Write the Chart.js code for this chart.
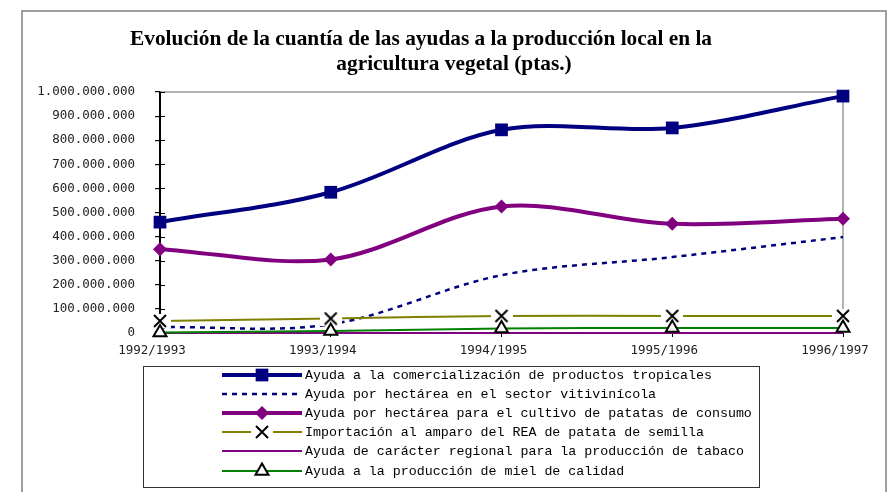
<!DOCTYPE html>
<html>
<head>
<meta charset="utf-8">
<script src="https://cdn.jsdelivr.net/npm/chart.js@4"></script>
<style>
  html, body { margin: 0; padding: 0; background: #fff; }
  #wrap { width: 896px; height: 492px; position: relative; }
</style>
</head>
<body>
<div id="wrap"><canvas id="ayudas" width="896" height="492"></canvas></div>
<script>
// campañas
const campanas = ['1992/1993', '1993/1994', '1994/1995', '1995/1996', '1996/1997'];

// importes en pesetas por línea de ayuda
const comercializacion = [460000000, 584000000, 843000000, 851000000, 983000000];
const vitivinicola = [24000000, 36000000, 240000000, 315000000, 398000000];
const patatasConsumo = [348000000, 305000000, 525000000, 453000000, 474000000];
const patataSemilla = [50000000, 60000000, 71000000, 71000000, 71000000];
const tabaco = [0, 0, 0, 0, 0];
const miel = [2000000, 8000000, 19000000, 21000000, 21000000];

const etiquetasY = ['0', '100.000.000', '200.000.000', '300.000.000', '400.000.000', '500.000.000',
  '600.000.000', '700.000.000', '800.000.000', '900.000.000', '1.000.000.000'];

const nombres = [
  'Ayuda a la comercialización de productos tropicales',
  'Ayuda por hectárea en el sector vitivinícola',
  'Ayuda por hectárea para el cultivo de patatas de consumo',
  'Importación al amparo del REA de patata de semilla',
  'Ayuda de carácter regional para la producción de tabaco',
  'Ayuda a la producción de miel de calidad'
];

const titulo = [
  'Evolución de la cuantía de las ayudas a la producción local en la',
  'agricultura vegetal (ptas.)'
];

// marcador en aspa con fondo blanco (corta la línea alrededor)
const aspa = document.createElement('canvas');
aspa.width = 22; aspa.height = 14;
(function () {
  const c = aspa.getContext('2d');
  c.fillStyle = '#fff';
  c.fillRect(0, 0, 22, 14);
  c.strokeStyle = '#000';
  c.lineWidth = 2;
  c.beginPath();
  c.moveTo(5, 1); c.lineTo(17, 13);
  c.moveTo(17, 1); c.lineTo(5, 13);
  c.stroke();
})();

const series = [
  { data: comercializacion, borderColor: '#000080', backgroundColor: '#000080', borderWidth: 4,
    pointStyle: 'rect', pointRadius: 9, pointBorderWidth: 0 },
  { data: vitivinicola, borderColor: '#000080', backgroundColor: '#000080', borderWidth: 2.5,
    borderDash: [5, 5], pointRadius: 0 },
  { data: patatasConsumo, borderColor: '#800080', backgroundColor: '#800080', borderWidth: 4,
    pointStyle: 'rectRot', pointRadius: 7, pointBorderWidth: 0 },
  { data: patataSemilla, borderColor: '#808000', backgroundColor: '#808000', borderWidth: 2,
    pointStyle: aspa, pointRadius: 7 },
  { data: tabaco, borderColor: '#800080', backgroundColor: '#800080', borderWidth: 2, pointRadius: 0 },
  { data: miel, borderColor: '#008000', backgroundColor: '#fff', borderWidth: 2,
    pointStyle: 'triangle', pointRadius: 7.5, pointBorderColor: '#000', pointBorderWidth: 2 }
];

const datasets = series.map((s, i) => Object.assign({
  label: nombres[i],
  tension: 0.33,
  clip: false,
  order: series.length - i,
  pointBackgroundColor: s.backgroundColor,
  pointBorderColor: s.pointBorderColor || s.borderColor
}, s));

// marco general, título, bordes del área de trazado y marcas del eje Y
const decoracion = {
  id: 'decoracion',
  beforeDraw(chart) {
    const ctx = chart.ctx;
    ctx.save();
    ctx.strokeStyle = '#808080';
    ctx.lineWidth = 1.5;
    ctx.strokeRect(22, 11, 864, 520);

    // título en negrita algo estrecha, ajustada a 582 px de ancho
    ctx.fillStyle = '#000';
    ctx.font = 'bold 22px "Liberation Serif"';
    ctx.textAlign = 'center';
    ctx.textBaseline = 'alphabetic';
    const k = 582 / ctx.measureText(titulo[0]).width;
    [[titulo[0], 421, 45], [titulo[1], 454, 70]].forEach(([t, x, y]) => {
      ctx.save();
      ctx.translate(x, y);
      ctx.scale(k, 1);
      ctx.fillText(t, 0, 0);
      ctx.restore();
    });
    ctx.restore();
  },
  beforeDatasetsDraw(chart) {
    const ctx = chart.ctx;
    const a = chart.chartArea;
    const y = chart.scales.y;
    ctx.save();
    ctx.strokeStyle = '#999';
    ctx.lineWidth = 1.5;
    ctx.beginPath();
    ctx.moveTo(a.left, a.top);
    ctx.lineTo(a.right, a.top);
    ctx.lineTo(a.right, a.bottom);
    ctx.stroke();

    ctx.strokeStyle = '#000';
    ctx.lineWidth = 1.2;
    ctx.beginPath();
    y.ticks.forEach(t => {
      const py = Math.round(y.getPixelForValue(t.value)) + 0.5;
      ctx.moveTo(a.left, py);
      ctx.lineTo(a.left + 5, py);
    });
    ctx.stroke();
    ctx.restore();
  },
  afterDraw(chart) {
    const ctx = chart.ctx;
    ctx.save();
    ctx.strokeStyle = '#333';
    ctx.lineWidth = 1;
    ctx.strokeRect(143.5, 366.5, 616, 121);

    ctx.font = '13.3px "Liberation Mono"';
    ctx.textAlign = 'left';
    ctx.textBaseline = 'middle';
    chart.data.datasets.forEach((ds, i) => {
      const ry = Math.round(374.5 + i * 19.2);
      ctx.save();
      ctx.strokeStyle = ds.borderColor;
      ctx.lineWidth = ds.borderWidth;
      ctx.setLineDash(ds.borderDash || []);
      ctx.beginPath();
      ctx.moveTo(222, ry);
      ctx.lineTo(302, ry);
      ctx.stroke();
      ctx.setLineDash([]);
      if (ds.pointRadius > 0) {
        ctx.fillStyle = ds.pointBackgroundColor;
        ctx.strokeStyle = ds.pointBorderColor;
        ctx.lineWidth = ds.pointBorderWidth || 0;
        Chart.helpers.drawPoint(ctx, {
          pointStyle: ds.pointStyle,
          radius: ds.pointRadius,
          rotation: 0,
          borderWidth: ds.pointBorderWidth || 0
        }, 262, ry);
      }
      ctx.restore();
      ctx.fillStyle = '#000';
      ctx.fillText(ds.label, 305, ry);
    });
    ctx.restore();
  }
};

new Chart(document.getElementById('ayudas'), {
  type: 'line',
  data: { labels: campanas, datasets: datasets },
  options: {
    responsive: false,
    animation: false,
    layout: { padding: { left: 0, top: 92, right: 53, bottom: 129 } },
    plugins: {
      legend: { display: false },
      title: { display: false },
      tooltip: { enabled: false }
    },
    scales: {
      x: {
        offset: false,
        afterFit: s => { s.height = 30; },
        border: { display: false },
        grid: { drawOnChartArea: false, tickLength: 4, color: '#000', lineWidth: 1 },
        ticks: {
          color: '#222',
          padding: 6,
          labelOffset: -8,
          maxRotation: 0,
          font: { family: '"DejaVu Sans Mono"', size: 12.5 }
        }
      },
      y: {
        min: 0,
        max: 1000000000,
        afterFit: s => { s.width = 160; },
        border: { display: true, color: '#000', width: 2 },
        grid: { drawOnChartArea: false, tickLength: 5, color: '#000', lineWidth: 1.2 },
        ticks: {
          stepSize: 100000000,
          color: '#222',
          padding: 20,
          font: { family: '"DejaVu Sans Mono"', size: 12.5 },
          callback: (v, i) => etiquetasY[i]
        }
      }
    }
  },
  plugins: [decoracion]
});
</script>
</body>
</html>
